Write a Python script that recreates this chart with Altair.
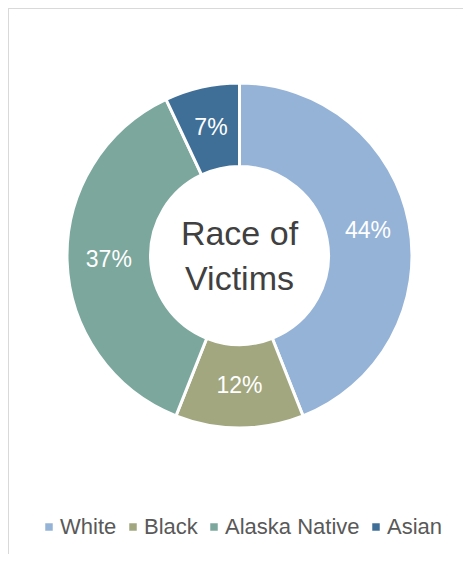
import altair as alt
import pandas as pd

categories = ["White", "Black", "Alaska Native", "Asian"]
values = [44, 12, 37, 7]
labels = ["44%", "12%", "37%", "7%"]
colors = ["#95B3D7", "#A2A77F", "#7BA79D", "#3F6F97"]
center_text = "Race of\nVictims"

df = pd.DataFrame({"race": categories, "value": values, "label": labels,
                   "order": list(range(len(categories)))})

W, H = 455, 546
CX, CY = 231.5, 247.5
R_OUT, R_IN = 172.5, 89
FONT = "Liberation Sans"

color = alt.Color("race:N", scale=alt.Scale(domain=categories, range=colors),
                  sort=categories,
                  legend=alt.Legend(title=None, orient="none", direction="horizontal",
                                    columns=4, legendX=30, legendY=508,
                                    symbolType="square", symbolSize=56,
                                    symbolStrokeWidth=0, labelFontSize=22,
                                    labelFont=FONT, labelColor="#595959",
                                    labelOffset=0, columnPadding=5,
                                    labelLimit=300))

base = alt.Chart(df).encode(
    theta=alt.Theta("value:Q", stack=True),
    order=alt.Order("order:Q"),
)

arcs = base.mark_arc(outerRadius=R_OUT, innerRadius=R_IN, stroke="white",
                     strokeWidth=3).encode(
    color=color, x=alt.value(CX), y=alt.value(CY))

text = base.mark_text(radius=(R_OUT + R_IN) / 2, fontSize=23, font=FONT,
                      color="white", baseline="middle", align="center").encode(
    text="label:N", x=alt.value(CX), y=alt.value(CY))

center = alt.Chart(pd.DataFrame({"t": [center_text]})).mark_text(
    lineBreak="\n", fontSize=34, lineHeight=45, font=FONT, color="#404040",
    baseline="middle", align="center").encode(
    text="t:N", x=alt.value(CX), y=alt.value(CY - 21))

border_top = alt.Chart(pd.DataFrame({"a": [0]})).mark_rule(
    color="#D9D9D9", strokeWidth=2).encode(
    x=alt.value(0), x2=alt.value(W), y=alt.value(0))
border_left = alt.Chart(pd.DataFrame({"a": [0]})).mark_rule(
    color="#D9D9D9", strokeWidth=2).encode(
    x=alt.value(0), y=alt.value(0), y2=alt.value(H))

chart = alt.layer(border_top, border_left, arcs, text, center).properties(
    width=W, height=H,
    autosize=alt.AutoSizeParams(type="none"),
    padding=0,
).configure_view(stroke=None)

chart.save("out.html", embed_options={"renderer": "svg", "actions": False})
